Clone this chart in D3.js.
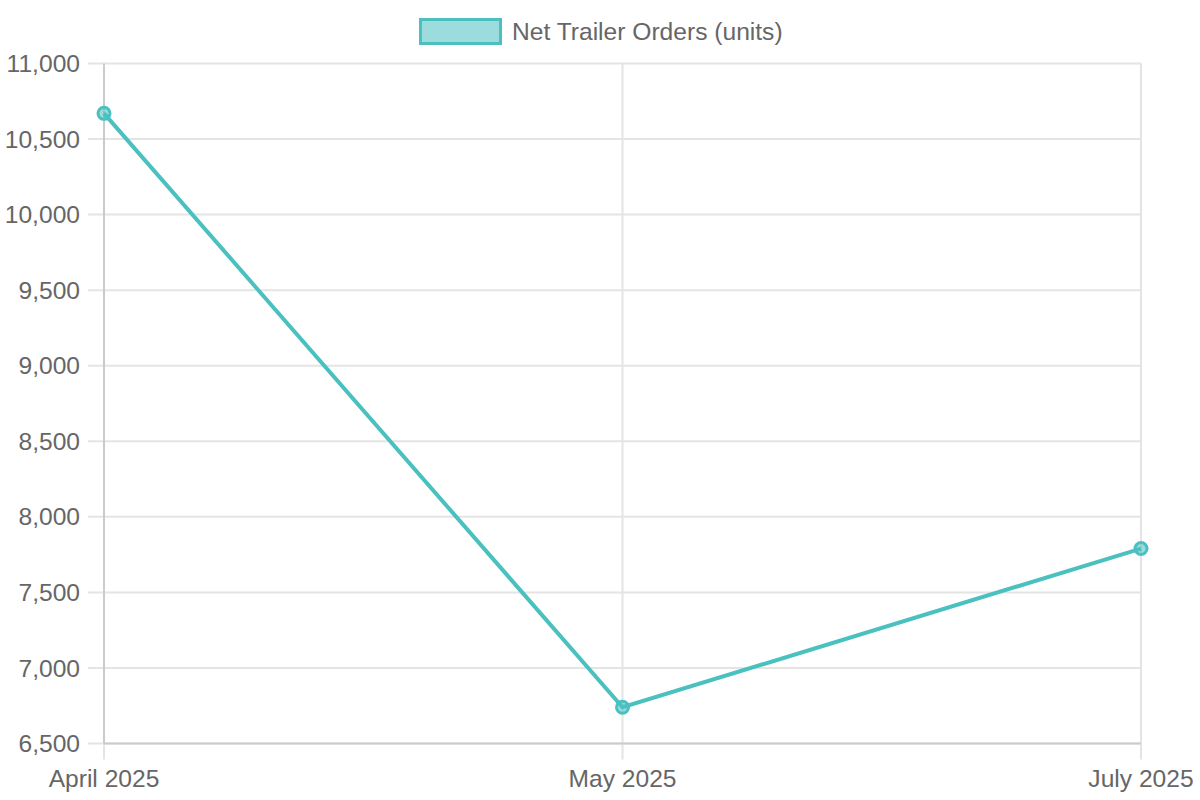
<!DOCTYPE html>
<html>
<head>
<meta charset="utf-8">
<script src="https://cdn.jsdelivr.net/npm/d3@7"></script>
<style>
  html, body { margin: 0; padding: 0; background: #fff; }
  svg { display: block; font-family: "Liberation Sans", Arial, Helvetica, sans-serif; }
</style>
</head>
<body>
<svg class="main" width="1200" height="800"></svg>
<script>
var months = ["April 2025", "May 2025", "July 2025"],
    orders = [10670, 6740, 7790],
    yTicks = [6500, 7000, 7500, 8000, 8500, 9000, 9500, 10000, 10500, 11000],
    seriesName = "Net Trailer Orders (units)";

var svg = d3.select(".main"),
    teal = "rgb(75,192,192)",
    tealFill = "rgba(75,192,192,0.55)",
    textColor = "#666",
    fontSize = 24.6,
    margin = { left: 104, right: 59, top: 63.5, bottom: 56.5 },
    width = 1200,
    height = 800;

var x = d3.scalePoint()
    .domain(months)
    .range([margin.left, width - margin.right]);

var y = d3.scaleLinear()
    .domain([6500, 11000])
    .range([height - margin.bottom, margin.top]);

var fmt = d3.format(",");

/**
 * Grid (tick marks included)
 */
svg.append("g")
    .selectAll("line")
    .data(yTicks)
    .enter()
    .append("line")
    .attr("x1", margin.left - 16)
    .attr("x2", width - margin.right)
    .attr("y1", function(d) { return y(d); })
    .attr("y2", function(d) { return y(d); })
    .attr("stroke", "#e4e4e4")
    .attr("stroke-width", 2);

svg.append("g")
    .selectAll("line")
    .data(months)
    .enter()
    .append("line")
    .attr("x1", function(d) { return x(d); })
    .attr("x2", function(d) { return x(d); })
    .attr("y1", margin.top)
    .attr("y2", height - margin.bottom + 16)
    .attr("stroke", "#e4e4e4")
    .attr("stroke-width", 2);

// axis borders
svg.append("line")
    .attr("x1", margin.left).attr("x2", margin.left)
    .attr("y1", y.range()[1]).attr("y2", y.range()[0])
    .attr("stroke", "#cbcbcb")
    .attr("stroke-width", 2);

svg.append("line")
    .attr("x1", x.range()[0]).attr("x2", x.range()[1])
    .attr("y1", y(6500)).attr("y2", y(6500))
    .attr("stroke", "#cbcbcb")
    .attr("stroke-width", 2);

/**
 * Tick labels
 */
svg.append("g")
    .selectAll("text")
    .data(yTicks)
    .enter()
    .append("text")
    .attr("x", margin.left - 24)
    .attr("y", function(d) { return y(d); })
    .attr("dy", "0.35em")
    .attr("text-anchor", "end")
    .attr("font-size", fontSize)
    .attr("fill", textColor)
    .text(function(d) { return fmt(d); });

svg.append("g")
    .selectAll("text")
    .data(months)
    .enter()
    .append("text")
    .attr("x", function(d) { return x(d); })
    .attr("y", 787)
    .attr("text-anchor", "middle")
    .attr("font-size", fontSize)
    .attr("fill", textColor)
    .text(function(d) { return d; });

/**
 * Line + points
 */
var line = d3.line()
    .x(function(d, i) { return x(months[i]); })
    .y(function(d) { return y(d); });

svg.append("path")
    .datum(orders)
    .attr("d", line)
    .attr("fill", "none")
    .attr("stroke", teal)
    .attr("stroke-width", 4);

svg.append("g")
    .selectAll("circle")
    .data(orders)
    .enter()
    .append("circle")
    .attr("cx", function(d, i) { return x(months[i]); })
    .attr("cy", function(d) { return y(d); })
    .attr("r", 6)
    .attr("fill", tealFill)
    .attr("stroke", teal)
    .attr("stroke-width", 3);

/**
 * Legend
 */
var legend = svg.append("g");

legend.append("rect")
    .attr("x", 420.5)
    .attr("y", 19.5)
    .attr("width", 80)
    .attr("height", 24)
    .attr("fill", tealFill)
    .attr("stroke", teal)
    .attr("stroke-width", 3);

legend.append("text")
    .attr("x", 512)
    .attr("y", 40)
    .attr("font-size", fontSize)
    .attr("fill", textColor)
    .text(seriesName);
</script>
</body>
</html>
